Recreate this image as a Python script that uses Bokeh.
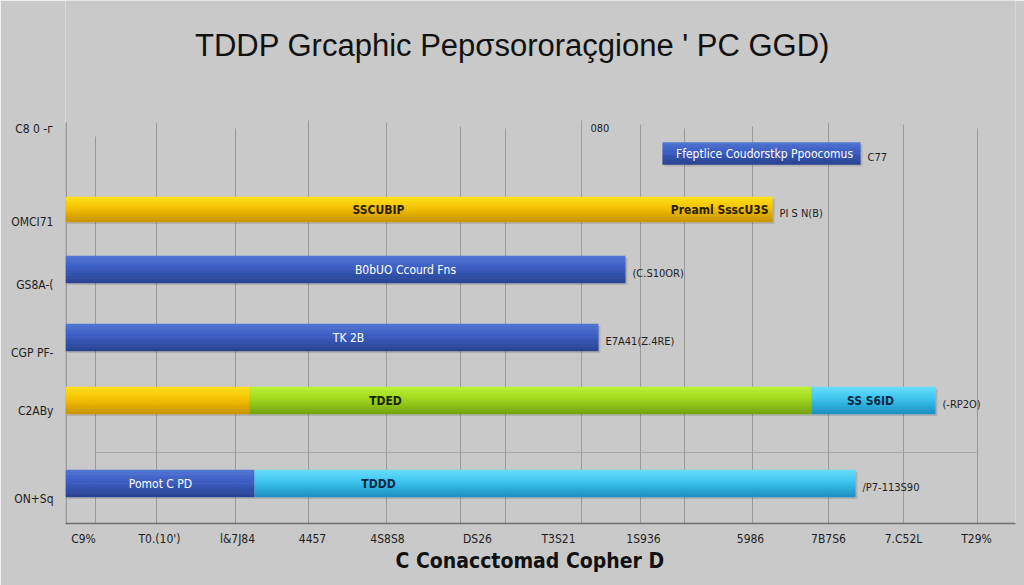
from bokeh.plotting import figure
from bokeh.models import Range1d, FixedTicker, Title, ColumnDataSource
from bokeh.core.properties import value
from bokeh.embed import file_html
from bokeh.resources import INLINE

# ---------------- data ----------------
categories = ["C8 0 -ᴦ", "OMCI71", "GS8A-(", "CGP PF-", "C2ABy", "ON+Sq"]

seg_row    = [0, 1, 2, 3, 4, 4, 4, 5, 5]
seg_start  = [597, 0, 0, 0, 0, 184, 746, 0, 189]
seg_end    = [795, 707, 560, 533, 184, 746, 870, 189, 790]
seg_series = ["B", "Y", "B", "B", "Y", "G", "C", "B", "C"]

inner_row    = [0, 1, 1, 2, 3, 4, 4, 5, 5]
inner_text   = ["Ffeptlice Coudorstkp Ppoocomus", "SSCUBIP", "Preaml SsscU3S",
                "B0bUO Ccourd Fns", "TK 2B", "TDED", "SS S6ID", "Pomot C PD", "TDDD"]
inner_series = ["B", "Y", "Y", "B", "B", "G", "C", "B", "C"]

outer_text = ["C77", "PI S N(B)", "(C.S10OR)", "E7A41(Z.4RE)", "(-RP2O)", "/P7-113S90"]
row_total  = [795, 707, 560, 533, 870, 790]

x_tick_labels = ["C9%", "T0.(10')", "l&7J84", "4457", "4S8S8", "DS26",
                 "T3S21", "1S936", "5986", "7B7S6", "7.C52L", "T29%"]

title_text = "TDDP Grcaphic Pepσsororaçgione ' PC GGD)"
xlabel_text = "C Conacctomad Copher D"
top_note = "080"

# ---------------- layout (positions / styles) ----------------
row_y      = [35, 91, 151, 219, 282, 365]
row_h      = [22, 25, 27, 27, 27, 27]
ytick_pos  = [10, 103, 166, 234, 292, 380]
xtick_pos  = [18, 94, 172, 247, 322, 412, 493, 578, 685, 763, 838, 911]
grid_pos   = [30, 91, 170, 243, 321, 395, 440, 516, 575, 619, 687, 763, 838, 912]
grid_top   = [18, 4, 10, 2, 4, 8, 10, 2, 6, 10, 8, 4, 6, 10]
inner_x    = [699, 313, 703, 340, 283, 320, 805, 95, 313]
inner_align = ["center", "center", "right", "center", "center", "center", "center", "center", "center"]

palette = {
    "Y": ("#ffe11c", "#f5c200", "#c89200"),
    "B": ("#5276d4", "#3b5dc2", "#2a4391"),
    "G": ("#bdf236", "#a0d81c", "#74a20e"),
    "C": ("#66defb", "#3cc4ee", "#1a8fc2"),
}
text_col = {"Y": "#2a2000", "B": "#ffffff", "G": "#1a2600", "C": "#0c2a44"}
text_style = {"Y": "bold", "B": "normal", "G": "bold", "C": "bold"}

BG = "#c9c9c9"
NARROW = "Liberation Sans Narrow, DejaVu Sans Condensed, sans-serif"
SANS = "Liberation Sans, Arial, sans-serif"
TOP_SPACE = 118   # room for the title, inside the plotting frame


def mix(c1, c2, t):
    a = [int(c1[i:i + 2], 16) for i in (1, 3, 5)]
    b = [int(c2[i:i + 2], 16) for i in (1, 3, 5)]
    return "#%02x%02x%02x" % tuple(round(x + (y - x) * t) for x, y in zip(a, b))


p = figure(width=1024, height=585, output_backend="svg", toolbar_location=None,
           x_range=Range1d(0, 950), y_range=Range1d(405, -TOP_SPACE),
           min_border_left=65, min_border_right=9, min_border_top=0,
           min_border_bottom=62)
p.background_fill_color = BG
p.border_fill_color = BG
p.outline_line_color = None

# grid (drawn as segments so it stays below the title area)
p.xgrid.grid_line_color = None
p.ygrid.grid_line_color = None
p.segment(x0=grid_pos, x1=grid_pos, y0=grid_top, y1=[405] * len(grid_pos),
          line_color="#9a9a9a", line_width=1)
p.segment(x0=[grid_pos[0]], x1=[grid_pos[-1]], y0=[334], y1=[334],
          line_color="#a8a8a8", line_width=1)
# y axis line
p.segment(x0=[0.5], x1=[0.5], y0=[4], y1=[405], line_color="#7a7a7a", line_width=1.2)

# bars: shadow + smooth vertical gradient built from thin strips
ys = [row_y[r] for r in seg_row]
hs = [row_h[r] for r in seg_row]
p.hbar(y=[y + 2 for y in ys], left=[l + 2 for l in seg_start],
       right=[r + 2 for r in seg_end], height=hs,
       fill_color="black", fill_alpha=0.12, line_color=None)

N = 12
gy, gl, gr, gh, gc = [], [], [], [], []
for y, h, l, r, s in zip(ys, hs, seg_start, seg_end, seg_series):
    top, mid, bot = palette[s]
    for k in range(N):
        t = (k + 0.5) / N
        if t < 0.45:
            col = mix(top, mid, t / 0.45)
        else:
            col = mix(mid, bot, (t - 0.45) / 0.55)
        gy.append(y - h / 2 + h * (k + 0.5) / N)
        gh.append(h / N + 0.6)
        gl.append(l)
        gr.append(r)
        gc.append(col)
p.hbar(y=gy, left=gl, right=gr, height=gh, fill_color=gc, line_color=None)

# inner labels
isrc = ColumnDataSource(dict(
    x=inner_x, y=[row_y[r] for r in inner_row], text=inner_text,
    color=[text_col[s] for s in inner_series],
    style=[text_style[s] for s in inner_series], align=inner_align))
p.text(x="x", y="y", text="text", source=isrc, text_color="color",
       text_align="align", text_baseline="middle", text_font_size="12px",
       text_font=value(NARROW), text_font_style="style")

# outer labels
osrc = ColumnDataSource(dict(x=row_total, y=row_y, text=outer_text))
p.text(x="x", y="y", text="text", source=osrc, text_color="#1e1e1e",
       text_align="left", text_baseline="middle", text_font_size="11px",
       text_font=value(NARROW), x_offset=7, y_offset=4)

p.text(x=[525], y=[9], text=[top_note], text_color="#1e1e1e", text_align="left",
       text_baseline="middle", text_font_size="11px", text_font=value(NARROW))

# title
p.text(x=[447], y=[-73], text=[title_text], text_align="center",
       text_baseline="middle", text_font=value(SANS), text_font_size="31px",
       text_color="#111111")

# axes
p.xaxis.ticker = FixedTicker(ticks=xtick_pos)
p.xaxis.major_label_overrides = {t: l for t, l in zip(xtick_pos, x_tick_labels)}
p.xaxis.major_tick_line_color = None
p.xaxis.minor_tick_line_color = None
p.xaxis.axis_line_color = "#6e6e6e"
p.xaxis.axis_line_width = 1.5
p.xaxis.major_label_text_font = NARROW
p.xaxis.major_label_text_font_size = "12px"
p.xaxis.major_label_text_color = "#1e1e1e"
p.xaxis.major_label_standoff = 2

p.yaxis.ticker = FixedTicker(ticks=ytick_pos)
p.yaxis.major_label_overrides = {t: l for t, l in zip(ytick_pos, categories)}
p.yaxis.major_tick_line_color = None
p.yaxis.minor_tick_line_color = None
p.yaxis.axis_line_color = None
p.yaxis.major_label_text_font = NARROW
p.yaxis.major_label_text_font_size = "12px"
p.yaxis.major_label_text_color = "#1e1e1e"
p.yaxis.major_label_standoff = 6

p.add_layout(Title(text=xlabel_text, align="left", offset=330, standoff=-3,
                   text_font=NARROW, text_font_size="21px", text_font_style="bold",
                   text_color="#111111"), "below")

open("out.html", "w").write(file_html(p, INLINE))
